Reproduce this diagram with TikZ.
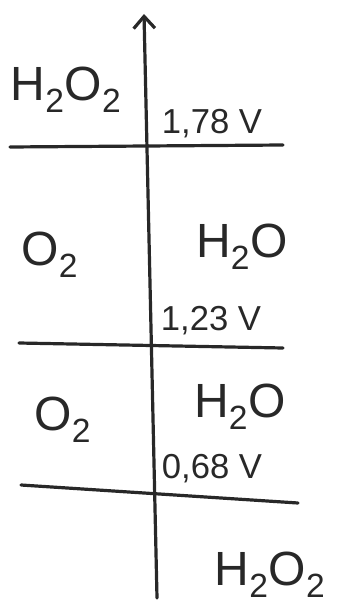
\documentclass[tikz,border=0pt]{standalone}
\usepackage{fontspec}
\setmainfont{Liberation Sans}
\usetikzlibrary{arrows.meta}

\tikzset{every picture/.style={line width=2.4pt}}
\tikzset{
  pen/.style={draw={rgb, 255:red, 40; green, 40; blue, 40}, line cap=round},
  species/.style={inner sep=0.75pt, font=\fontsize{36}{40}\selectfont, text={rgb, 255:red, 40; green, 40; blue, 40}},
  potential/.style={inner sep=0.75pt, font=\fontsize{26}{30}\selectfont, text={rgb, 255:red, 40; green, 40; blue, 40}}
}

\begin{document}
\begin{tikzpicture}[x=0.75pt,y=0.75pt,yscale=-1,xscale=1]
\useasboundingbox (0,0) rectangle (337,606);

%Axis ends
\coordinate (axbot) at (157,598);
\coordinate (axtop) at (144,14);
%Level lines ends
\coordinate (la) at (10,147);
\coordinate (ra) at (283,145);
\coordinate (lb) at (19,343);
\coordinate (rb) at (283,348);
\coordinate (lc) at (21,485);
\coordinate (rc) at (298,503);

%Straight Lines [axis]
\draw [pen, -{Straight Barb[length=9pt,width=16pt,line width=2.4pt]}] (axbot) -- (axtop) ;
%Straight Lines [1,78 V]
\draw [pen] (la) -- (ra) ;
%Straight Lines [1,23 V]
\draw [pen] (lb) -- (rb) ;
%Straight Lines [0,68 V]
\draw [pen] (lc) -- (rc) ;

% Text Node
\node [species] (peroxtop) at (66,90) {H\textsubscript{2}O\textsubscript{2}};
% Text Node
\node [potential] (pota) at (212,124) {1,78 V};
% Text Node
\node [potential] (potb) at (211,321) {1,23 V};
% Text Node
\node [potential] (potc) at (212,469) {0,68 V};
% Text Node
\node [species] (oxya) at (50,255) {O\textsubscript{2}};
% Text Node
\node [species] (watera) at (242,247) {H\textsubscript{2}O};
% Text Node
\node [species] (oxyb) at (63,420) {O\textsubscript{2}};
% Text Node
\node [species] (waterb) at (240,407) {H\textsubscript{2}O};
% Text Node
\node [species] (peroxbot) at (270,575) {H\textsubscript{2}O\textsubscript{2}};

\end{tikzpicture}
\end{document}
